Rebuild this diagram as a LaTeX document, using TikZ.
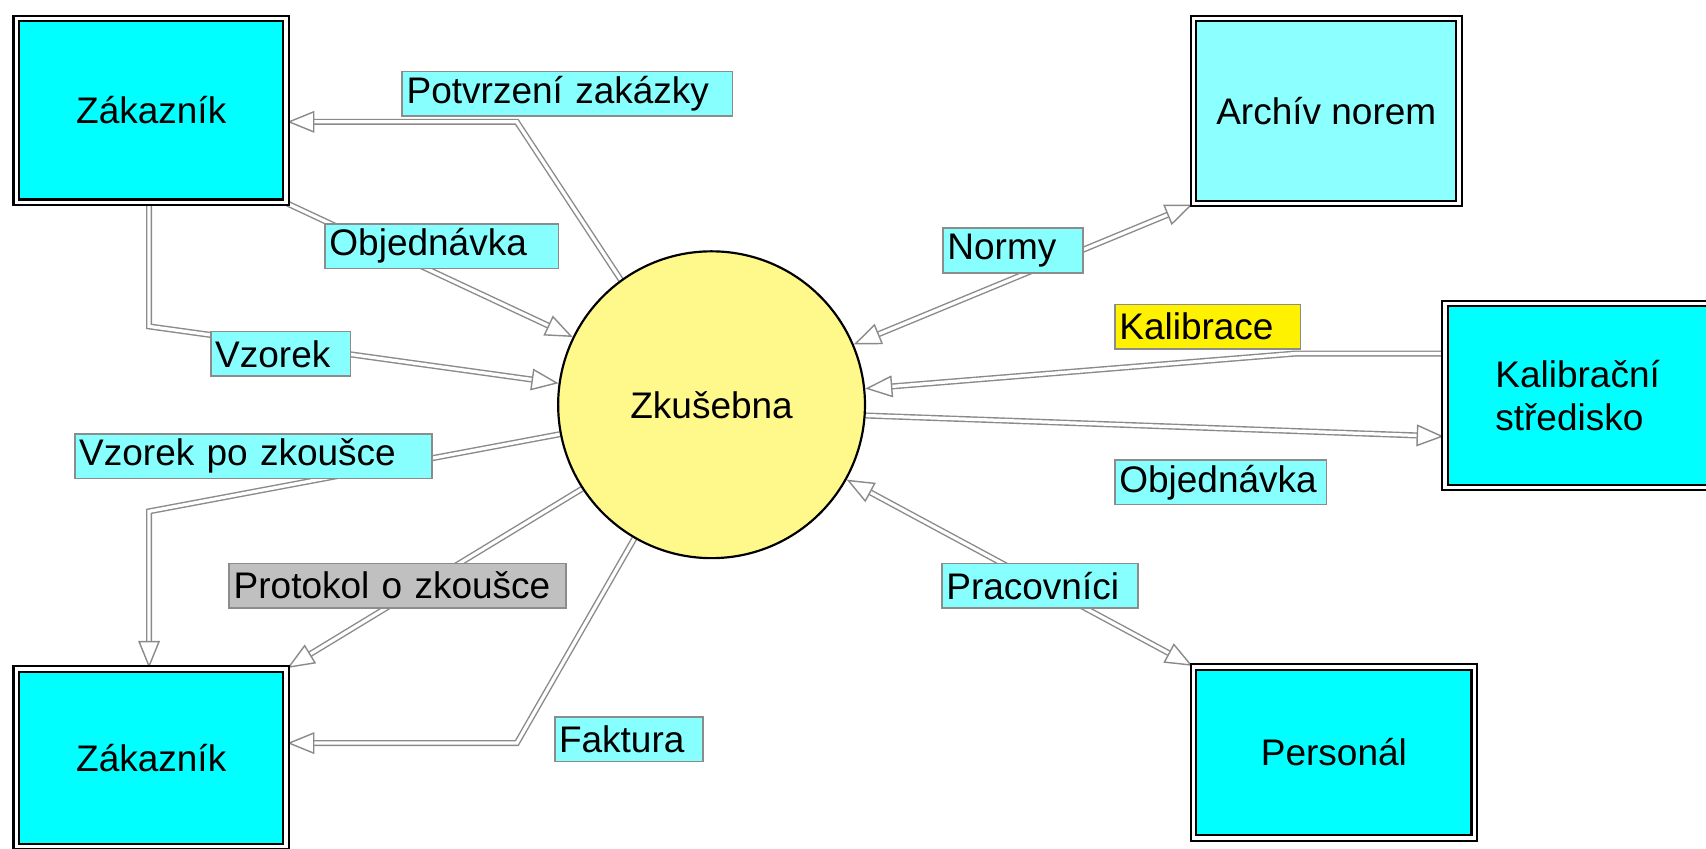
\documentclass[tikz,border=0pt]{standalone}
\usepackage{fontspec}
\setmainfont{Liberation Sans}
\usetikzlibrary{arrows.meta,backgrounds}

\definecolor{boxcyan}{HTML}{00FFFF}
\definecolor{archcyan}{HTML}{8CFFFF}
\definecolor{labelcyan}{HTML}{88FFFF}
\definecolor{labelframe}{HTML}{8C8C8C}
\definecolor{zkyellow}{HTML}{FFF98C}
\definecolor{flowgray}{HTML}{8A8A8A}
\definecolor{protgray}{HTML}{C0C0C0}

\begin{document}
\begin{tikzpicture}[x=0.5pt,y=-0.5pt,font=\fontsize{17}{20}\selectfont,
  entity/.style={draw=black, double=white, double distance=1.6pt, line width=1pt, fill=boxcyan, inner sep=0pt, align=left},
  flowlabel/.style={draw=labelframe, line width=0.8pt, fill=labelcyan, anchor=north west, inner xsep=2pt, inner ysep=0pt, minimum height=20.5pt, align=left},
  flow/.style={draw=flowgray, double=white, double distance=1.5pt, line width=0.65pt},
  oneway/.style={-{Triangle[open,length=12.5pt,width=10pt]}},
  twoway/.style={{Triangle[open,length=12.5pt,width=10pt]}-{Triangle[open,length=12.5pt,width=10pt]}}]
\useasboundingbox (0,0) rectangle (1568,780);

% Entities
\node[entity, minimum width=124pt, minimum height=84.5pt] (zakA) at (139,101.5) {Zákazník};
\node[entity, minimum width=124pt, minimum height=81.5pt] (zakB) at (139,696.5) {Zákazník};
\node[entity, fill=archcyan, minimum width=122pt, minimum height=85pt] (archiv) at (1219,102) {Archív norem};
\node[entity, minimum width=122pt, minimum height=84.5pt] (kalib) at (1450,363.5) {Kalibrační\\středisko};
\node[entity, minimum width=129pt, minimum height=78.5pt] (personal) at (1226,691.5) {Personál};
% Process
\node[circle, draw=black, line width=1pt, fill=zkyellow, minimum size=141pt, inner sep=0pt] (zk) at (654,372) {Zkušebna};

% Text Node
\node[flowlabel, text width=147.7pt] (lPotvr) at (369,65) {Potvrzení zakázky};
% Text Node
\node[flowlabel, text width=103.2pt] (lObjA) at (298,205) {Objednávka};
% Text Node
\node[flowlabel, text width=60.2pt] (lVzorek) at (193,304) {Vzorek};
% Text Node
\node[flowlabel, text width=160.2pt] (lVzorekPo) at (68,398) {Vzorek po zkoušce};
% Text Node
\node[flowlabel, fill=protgray, text width=150.7pt] (lProtokol) at (210,517) {Protokol o zkoušce};
% Text Node
\node[flowlabel, text width=64.2pt] (lFaktura) at (509,658) {Faktura};
% Text Node
\node[flowlabel, text width=60.2pt] (lNormy) at (866,209) {Normy};
% Text Node
\node[flowlabel, fill=yellow, text width=81.2pt] (lKalibrace) at (1024,279) {Kalibrace};
% Text Node
\node[flowlabel, text width=93.2pt] (lObjB) at (1024,422) {Objednávka};
% Text Node
\node[flowlabel, text width=86.2pt] (lPracov) at (865,517) {Pracovníci};

% bends
\coordinate (c1) at (475,112);
\coordinate (c3) at (137,300);
\coordinate (c4) at (137,470);
\coordinate (c6) at (475,683);
\coordinate (c8) at (1190,325);

\begin{pgfonlayer}{background}
%Flows
\draw[flow, oneway] (zk.126) -- (c1) -- (c1 -| zakA.east);
\draw[flow, oneway] (zakA.south east) -- (zk.154);
\draw[flow, oneway] (c3 |- zakA.south) -- (c3) -- (zk.172);
\draw[flow, oneway] (zk.191) -- (c4) -- (c4 |- zakB.north);
\draw[flow, oneway] (zk.213) -- (zakB.north east);
\draw[flow, oneway] (zk.240) -- (c6) -- (c6 -| zakB.east);
\draw[flow, twoway] (archiv.south west) -- (zk.23);
\draw[flow, oneway] (c8 -| kalib.west) -- (c8) -- (zk.6);
\draw[flow, oneway] (zk.-4) -- (kalib.197);
\draw[flow, twoway] (personal.north west) -- (zk.-29);
\end{pgfonlayer}
\end{tikzpicture}
\end{document}
